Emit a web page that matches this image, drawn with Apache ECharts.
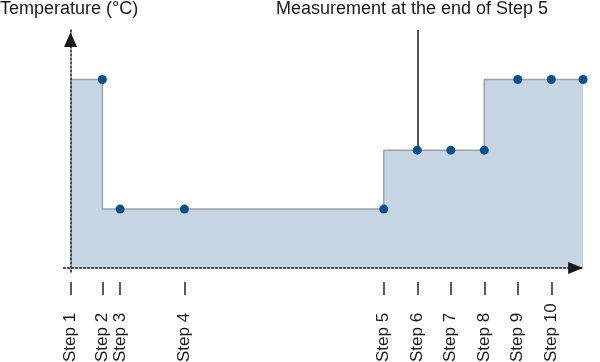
<!DOCTYPE html>
<html>
<head>
<meta charset="utf-8">
<script src="https://cdn.jsdelivr.net/npm/echarts@6/dist/echarts.min.js"></script>
<style>
html,body{margin:0;padding:0;background:#fff;}
#chart{width:600px;height:362px;}
</style>
</head>
<body>
<div id="chart"></div>
<script>
// ---- data ----
const stepLabels = ['Step 1','Step 2','Step 3','Step 4','Step 5','Step 6','Step 7','Step 8','Step 9','Step 10'];
const stepPositions = [0, 0.95, 1.48, 3.4, 9.35, 10.35, 11.35, 12.35, 13.35, 14.35];
const endPosition = 15.3;
const temperatures = [80, 80, 25, 25, 25, 50, 50, 50, 80, 80, 80];
const measurementIndex = 5;           // Step 6 point = end of Step 5
const measurementTop = 101;
const titleText = 'Temperature (°C)';
const annotationText = 'Measurement at the end of Step 5';

const xs = stepPositions.concat([endPosition]);
const seriesData = xs.map((x, i) => ({
  value: [x, temperatures[i]],
  symbol: i === 0 ? 'none' : 'circle'
}));

const chart = echarts.init(document.getElementById('chart'), null, {renderer: 'canvas'});
const font = '"Liberation Sans", Arial, Helvetica, sans-serif';

chart.setOption({
  animation: false,
  grid: {left: 63.5, right: 16.9, top: 30, bottom: 90, containLabel: false, outerBoundsMode: 'none'},
  xAxis: [{
    type: 'value', min: -0.21, max: endPosition, z: 10,
    axisLine: {show: true, onZero: true, symbol: ['none', 'triangle'], symbolSize: [12, 15], symbolOffset: [0, -7.5],
      lineStyle: {color: '#1a1a1a', width: 1.5, type: [2, 2]}},
    axisTick: {show: false}, axisLabel: {show: false}, splitLine: {show: false}
  }, {
    type: 'value', min: -0.21, max: endPosition, position: 'bottom', offset: 10,
    axisLine: {show: false, onZero: false},
    axisTick: {show: true, customValues: stepPositions, length: 13, lineStyle: {color: '#333', width: 1.6}},
    axisLabel: {show: true, customValues: stepPositions, rotate: 90, align: 'left', margin: 80,
      fontSize: 17, fontFamily: font, color: '#1a1a1a',
      formatter: v => { const i = stepPositions.findIndex(p => Math.abs(p - v) < 1e-6); return i >= 0 ? stepLabels[i] : ''; }},
    splitLine: {show: false}
  }],
  yAxis: {
    type: 'value', min: -1.7, max: 101, z: 10,
    axisLine: {show: true, onZero: true, symbol: ['none', 'triangle'], symbolSize: [13, 15], symbolOffset: [0, -9.5],
      lineStyle: {color: '#1a1a1a', width: 1.5, type: [2, 2]}},
    axisTick: {show: false}, axisLabel: {show: false}, splitLine: {show: false}
  },
  series: [{
    type: 'line',
    step: 'start',
    clip: false,
    data: seriesData,
    symbolSize: 9,
    showAllSymbol: true,
    itemStyle: {color: '#0b4f8c'},
    lineStyle: {color: '#a0a0a0', width: 1.5},
    areaStyle: {color: '#c5d5e3', opacity: 1},
    markLine: {
      silent: true,
      symbol: ['none', 'none'],
      label: {show: false},
      z: 1,
      lineStyle: {color: '#1a1a1a', width: 1.5, type: 'solid'},
      data: [[
        {coord: [xs[measurementIndex], temperatures[measurementIndex]]},
        {coord: [xs[measurementIndex], measurementTop]}
      ]]
    }
  }],
  graphic: [{
    type: 'text', left: 0, top: 0,
    style: {text: titleText, font: '18px ' + font, fill: '#1a1a1a'}
  }, {
    type: 'text', x: 412, y: 0,
    style: {text: annotationText, font: '18px ' + font, fill: '#1a1a1a', textAlign: 'center'}
  }]
});
</script>
</body>
</html>
